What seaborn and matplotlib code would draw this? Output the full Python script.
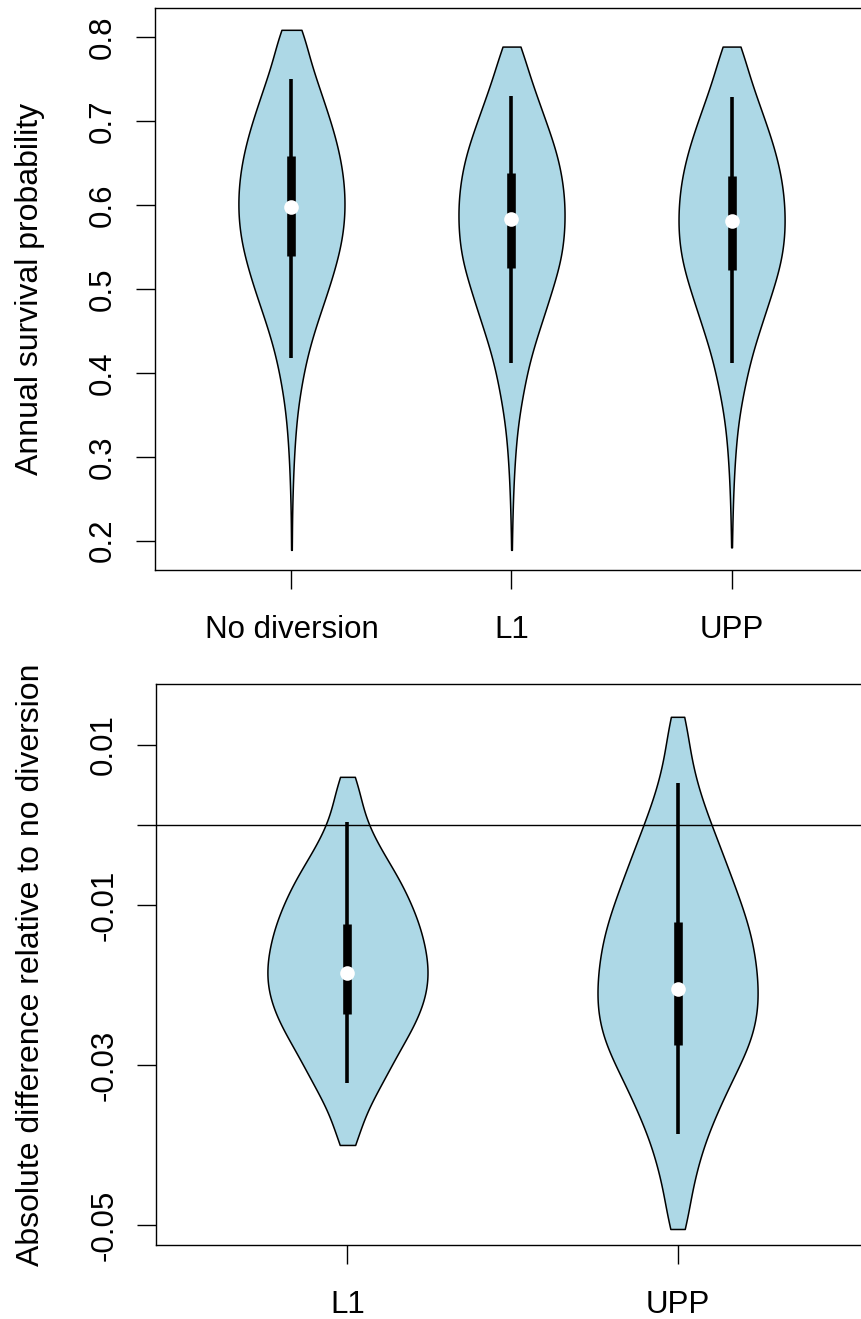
import numpy as np
import pandas as pd
import seaborn as sns
import matplotlib.pyplot as plt

# survival values (binned) -- top panel
top_order = ["No diversion", "L1", "UPP"]
nodiv_vals = [0.189, 0.209, 0.229, 0.249, 0.269, 0.289, 0.309, 0.329, 0.349, 0.369, 0.389,
              0.409, 0.429, 0.449, 0.469, 0.489, 0.509, 0.529, 0.549, 0.569, 0.589, 0.609,
              0.629, 0.649, 0.669, 0.689, 0.709, 0.729, 0.749, 0.769, 0.789, 0.809]
nodiv_counts = [1, 1, 1, 2, 3, 4, 6, 8, 11, 15, 21, 27, 35, 45, 56, 68, 79, 89, 98, 104, 107,
                107, 105, 100, 93, 84, 73, 62, 50, 39, 29, 27]
l1_vals = [0.189, 0.209, 0.229, 0.249, 0.269, 0.289, 0.309, 0.329, 0.349, 0.369, 0.389,
           0.409, 0.429, 0.449, 0.469, 0.489, 0.509, 0.529, 0.549, 0.569, 0.589, 0.609,
           0.629, 0.649, 0.669, 0.689, 0.709, 0.729, 0.749, 0.769, 0.789]
l1_counts = [1, 1, 2, 3, 4, 6, 8, 11, 15, 21, 27, 34, 43, 54, 65, 76, 86, 97, 103, 106, 107,
             106, 102, 96, 87, 75, 63, 51, 39, 28, 22]
upp_vals = [0.192, 0.209, 0.229, 0.249, 0.269, 0.289, 0.309, 0.329, 0.349, 0.369, 0.389,
            0.409, 0.429, 0.449, 0.469, 0.489, 0.509, 0.529, 0.549, 0.569, 0.589, 0.609,
            0.629, 0.649, 0.669, 0.689, 0.709, 0.729, 0.749, 0.769, 0.789]
upp_counts = [1, 1, 2, 3, 4, 6, 8, 11, 15, 21, 28, 35, 44, 55, 66, 77, 88, 98, 104, 107, 107,
              105, 101, 94, 85, 74, 62, 50, 38, 28, 22]

# interval summaries drawn inside the violins
top_lo = [0.418, 0.412, 0.412]
top_q1 = [0.539, 0.525, 0.523]
top_med = [0.598, 0.583, 0.581]
top_q3 = [0.659, 0.638, 0.635]
top_hi = [0.750, 0.730, 0.729]

# difference relative to no diversion -- bottom panel
bot_order = ["L1", "UPP"]
d_l1_vals = [-0.040, -0.038, -0.036, -0.034, -0.032, -0.030, -0.028, -0.026, -0.024, -0.022,
             -0.020, -0.018, -0.016, -0.014, -0.012, -0.010, -0.008, -0.006, -0.004, -0.002,
             0.000, 0.002, 0.004, 0.006]
d_l1_counts = [17, 25, 36, 52, 70, 86, 103, 122, 138, 150, 157, 158, 154, 147, 138, 125, 111,
               94, 74, 56, 40, 30, 24, 17]
d_upp_vals = [-0.0505, -0.0485, -0.0465, -0.0445, -0.0425, -0.0405, -0.0385, -0.0365, -0.0345,
              -0.0325, -0.0305, -0.0285, -0.0265, -0.0245, -0.0225, -0.0205, -0.0185, -0.0165,
              -0.0145, -0.0125, -0.0105, -0.0085, -0.0065, -0.0045, -0.0025, -0.0005, 0.0015,
              0.0035, 0.0055, 0.0075, 0.0095, 0.0115, 0.0135]
d_upp_counts = [20, 21, 25, 32, 40, 48, 60, 73, 87, 102, 117, 135, 147, 155, 159, 158, 156, 152,
                147, 139, 128, 117, 105, 93, 82, 69, 57, 46, 36, 29, 23, 19, 19]

bot_lo = [-0.0323, -0.0386]
bot_q1 = [-0.0236, -0.0275]
bot_med = [-0.0185, -0.0205]
bot_q3 = [-0.0124, -0.0122]
bot_hi = [0.0004, 0.0052]

FILL = "lightblue"
FS_TICK = 22.5
FS_LAB = 23
BW = 0.2

sns.set_theme(style="white", rc={"axes.edgecolor": "black", "axes.linewidth": 1.0,
                                 "axes.labelcolor": "black", "text.color": "black",
                                 "xtick.color": "black", "ytick.color": "black"})
plt.rcParams["font.family"] = ["Liberation Sans", "DejaVu Sans"]


def expand(names, vals_list, counts_list, col):
    parts = []
    for name, v, c in zip(names, vals_list, counts_list):
        parts.append(pd.DataFrame({"group": name, col: np.repeat(v, c)}))
    return pd.concat(parts, ignore_index=True)


def draw_summary(ax, lo, q1, med, q3, hi):
    for i in range(len(med)):
        ax.plot([i, i], [lo[i], hi[i]], color="black", lw=2.6, solid_capstyle="butt", zorder=3)
        ax.plot([i, i], [q1[i], q3[i]], color="black", lw=6.2, solid_capstyle="butt", zorder=4)
        ax.plot(i, med[i], marker="o", ms=10.5, mfc="white", mec="white", mew=0, zorder=5)


def style_axes(ax):
    for s in ax.spines.values():
        s.set_visible(True)
        s.set_color("black")
        s.set_linewidth(1.0)
    ax.tick_params(axis="both", direction="out", length=13.5, width=1.0,
                   labelsize=FS_TICK, bottom=True, left=True)
    ax.tick_params(axis="x", pad=19)
    ax.tick_params(axis="y", pad=13)
    for lab in ax.get_yticklabels():
        lab.set_rotation(90)
        lab.set_va("center")
    ax.set_xlabel("")


top_df = expand(top_order, [nodiv_vals, l1_vals, upp_vals],
                [nodiv_counts, l1_counts, upp_counts], "survival")
bot_df = expand(bot_order, [d_l1_vals, d_upp_vals], [d_l1_counts, d_upp_counts], "diff")

fig = plt.figure(figsize=(8.62, 13.19), dpi=100)
ax1 = fig.add_axes([155 / 862, 1 - 570 / 1319, 713 / 862, 562 / 1319])
ax2 = fig.add_axes([156 / 862, 1 - 1245 / 1319, 713 / 862, 561 / 1319])

# top panel
sns.violinplot(data=top_df, x="group", y="survival", order=top_order, color=FILL,
               saturation=1, linecolor="black", linewidth=1.1, cut=0, inner=None,
               density_norm="width", width=0.482, bw_method=BW, gridsize=400, ax=ax1)
draw_summary(ax1, top_lo, top_q1, top_med, top_q3, top_hi)
ax1.set_xlim(-0.62, 2.62)
ax1.set_ylim(0.165, 0.835)
ax1.set_yticks([0.2, 0.3, 0.4, 0.5, 0.6, 0.7, 0.8])
ax1.set_yticklabels(["0.2", "0.3", "0.4", "0.5", "0.6", "0.7", "0.8"])
style_axes(ax1)
ax1.set_ylabel("Annual survival probability", fontsize=FS_LAB, color="black")
ax1.yaxis.set_label_coords(-0.1547, 0.5)

# bottom panel
sns.violinplot(data=bot_df, x="group", y="diff", order=bot_order, color=FILL,
               saturation=1, linecolor="black", linewidth=1.1, cut=0, inner=None,
               density_norm="width", width=0.485, bw_method=BW, gridsize=400, ax=ax2)
ax2.axhline(0, color="black", lw=1.0, zorder=2.5)
draw_summary(ax2, bot_lo, bot_q1, bot_med, bot_q3, bot_hi)
ax2.set_xlim(-0.58, 1.58)
ax2.set_ylim(-0.0525, 0.0176)
ax2.set_yticks([-0.05, -0.03, -0.01, 0.0, 0.01])
ax2.set_yticklabels(["-0.05", "-0.03", "-0.01", "", "0.01"])
style_axes(ax2)
ax2.set_ylabel("Absolute difference relative to no diversion", fontsize=FS_LAB, color="black")
ax2.yaxis.set_label_coords(-0.1547, 0.5)

fig.savefig("out.png", dpi=100)
